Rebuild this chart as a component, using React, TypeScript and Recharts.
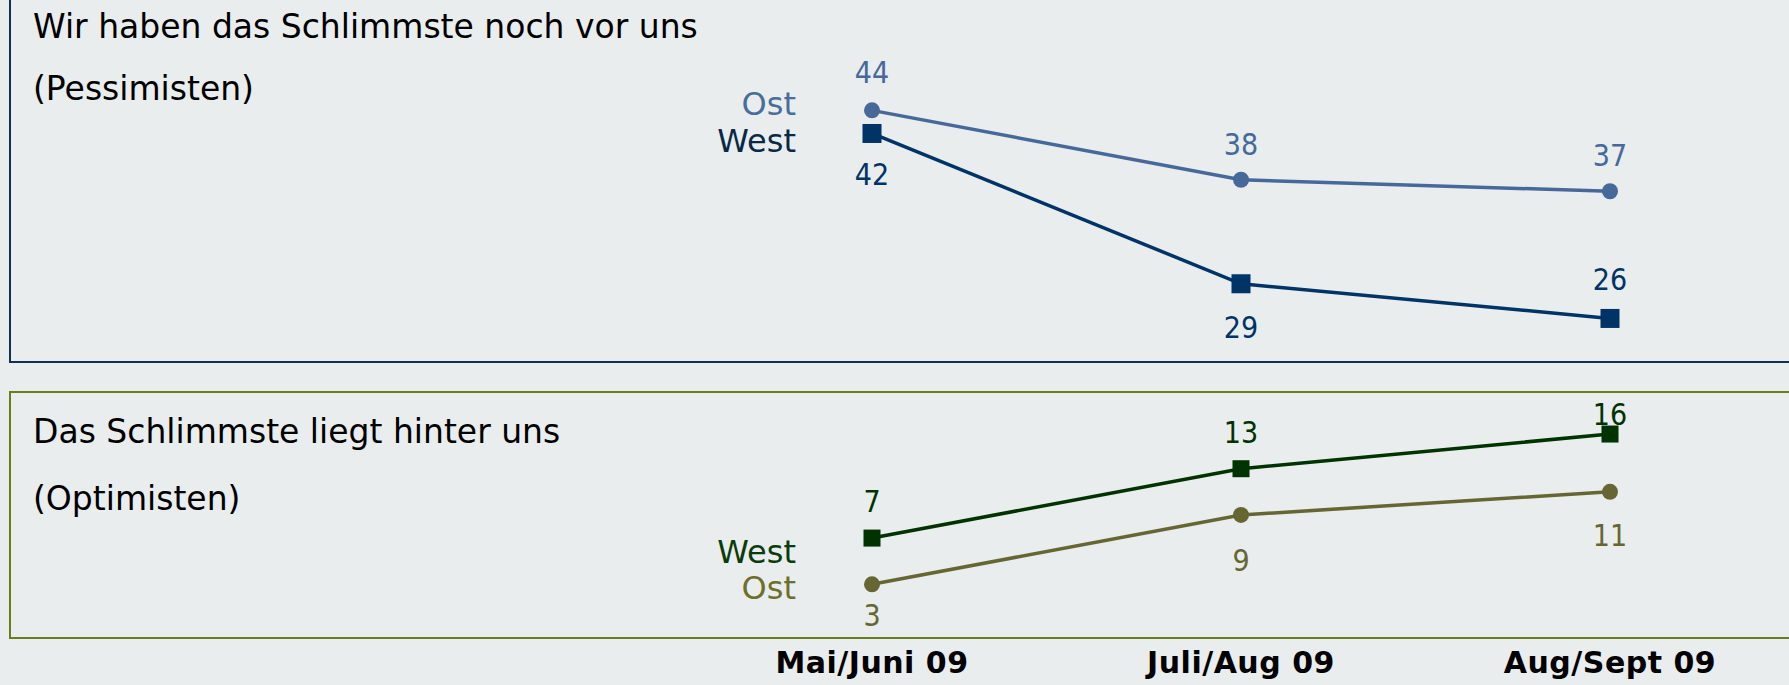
import React from "react";
import { LineChart, Line, XAxis, YAxis, LabelList } from "recharts";

// survey waves
const periods = ["Mai/Juni 09", "Juli/Aug 09", "Aug/Sept 09"];

// "Wir haben das Schlimmste noch vor uns" (Pessimisten), in %
const pessimistenOst = [44, 38, 37];
const pessimistenWest = [42, 29, 26];

// "Das Schlimmste liegt hinter uns" (Optimisten), in %
const optimistenWest = [7, 13, 16];
const optimistenOst = [3, 9, 11];

const W = 1789;
const H = 685;
const BG = "#e9edee";
const FONT = "'DejaVu Sans', Verdana, sans-serif";
const NUM_FONT = "'DejaVu Sans Condensed', 'DejaVu Sans', sans-serif";

const data = periods.map((period, i) => ({
  period,
  pOst: pessimistenOst[i],
  pWest: pessimistenWest[i],
  oWest: optimistenWest[i],
  oOst: optimistenOst[i],
}));

type Series = {
  key: string;
  name: string;
  color: string;
  nameColor: string;
  shape: "circle" | "square";
  size: number;
  nameDy: number;
  valueDy: number[];
};

// label placement relative to each point (baseline offsets)
const series: Series[] = [
  { key: "pOst", name: "Ost", color: "#46699a", nameColor: "#4a6d99", shape: "circle", size: 16, nameDy: 5, valueDy: [-27, -25, -25] },
  { key: "pWest", name: "West", color: "#003366", nameColor: "#0b2846", shape: "square", size: 19, nameDy: 19, valueDy: [52, 54, -28] },
  { key: "oWest", name: "West", color: "#003300", nameColor: "#0b3b0b", shape: "square", size: 17, nameDy: 25, valueDy: [-26, -26, -9] },
  { key: "oOst", name: "Ost", color: "#666633", nameColor: "#6f6f2c", shape: "circle", size: 16, nameDy: 15, valueDy: [42, 56, 54] },
];

function makeDot(s: Series) {
  return (props: any) => {
    const { cx, cy, index } = props;
    if (cx == null || cy == null) return <g key={`${s.key}-d-${index}`} />;
    if (s.shape === "square") {
      return (
        <rect
          key={`${s.key}-d-${index}`}
          x={cx - s.size / 2}
          y={cy - s.size / 2}
          width={s.size}
          height={s.size}
          fill={s.color}
        />
      );
    }
    return <circle key={`${s.key}-d-${index}`} cx={cx} cy={cy} r={s.size / 2} fill={s.color} />;
  };
}

function makeLabel(s: Series) {
  return (props: any) => {
    const { x, y, value, index } = props;
    return (
      <g key={`${s.key}-l-${index}`}>
        <text
          x={x}
          y={y + s.valueDy[index]}
          textAnchor="middle"
          fill={s.color}
          fontFamily={NUM_FONT}
          fontSize={30}
          style={{ fontStretch: "condensed" }}
        >
          {value}
        </text>
        {index === 0 && (
          <text
            x={x - 76}
            y={y + s.nameDy}
            textAnchor="end"
            fill={s.nameColor}
            fontFamily={FONT}
            fontSize={32}
          >
            {s.name}
          </text>
        )}
      </g>
    );
  };
}

function PeriodTick(props: any) {
  const { x, y, payload } = props;
  return (
    <text
      x={x}
      y={y + 46}
      textAnchor="middle"
      fill="#000"
      fontFamily={FONT}
      fontWeight="bold"
      fontSize={30}
      letterSpacing={0.5}
    >
      {payload.value}
    </text>
  );
}

export default function App() {
  return (
    <div style={{ position: "absolute", left: 0, top: 0, width: W, height: H, background: BG, overflow: "hidden" }}>
      <svg width={W} height={H} style={{ position: "absolute", left: 0, top: 0 }}>
        <path d={`M10 -5 V362 H${W + 5}`} fill="none" stroke="#12304f" strokeWidth={2} />
        <path d={`M${W + 5} 392 H10 V638 H${W + 5}`} fill="none" stroke="#6a7d1b" strokeWidth={2} />
        <g fontFamily={FONT} fontSize={33} fill="#000">
          <text x={33} y={38}>Wir haben das Schlimmste noch vor uns</text>
          <text x={33} y={100}>(Pessimisten)</text>
          <text x={33} y={443}>Das Schlimmste liegt hinter uns</text>
          <text x={33} y={510}>(Optimisten)</text>
        </g>
      </svg>
      <div style={{ position: "absolute", left: 0, top: 0 }}>
        <LineChart
          width={W}
          height={H}
          data={data}
          margin={{ top: 41, right: W - 1610, bottom: 6, left: 872 }}
        >
          <XAxis
            dataKey="period"
            axisLine={false}
            tickLine={false}
            height={60}
            interval={0}
            tick={<PeriodTick />}
          />
          <YAxis hide domain={[0, 50]} />
          {series.map((s) => (
            <Line
              key={s.key}
              dataKey={s.key}
              type="linear"
              stroke={s.color}
              strokeWidth={3.5}
              dot={makeDot(s)}
              activeDot={false}
              isAnimationActive={false}
            >
              <LabelList dataKey={s.key} content={makeLabel(s)} />
            </Line>
          ))}
        </LineChart>
      </div>
    </div>
  );
}
